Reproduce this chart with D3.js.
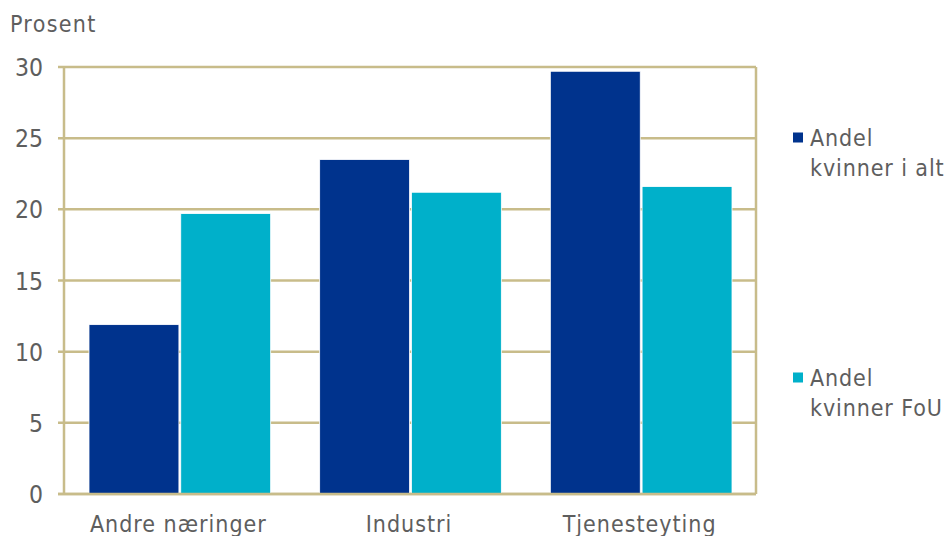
<!DOCTYPE html>
<html><head><meta charset="utf-8">
<script src="https://cdn.jsdelivr.net/npm/d3@7"></script>
<style>
body{margin:0;background:#fff;}
text{font-family:"DejaVu Sans Condensed","DejaVu Sans",Verdana,sans-serif;font-stretch:condensed;fill:#5E5E5E;}
</style></head><body>
<svg id="c" width="949" height="536"></svg>
<script>
const categories = ["Andre næringer", "Industri", "Tjenesteyting"];
const seriesNames = ["Andel kvinner i alt", "Andel kvinner FoU"];
const legendLines = [["Andel", "kvinner i alt"], ["Andel", "kvinner FoU"]];
const totalShare = [11.9, 23.5, 29.7];
const rndShare = [19.7, 21.2, 21.6];
const yTicks = [0, 5, 10, 15, 20, 25, 30];
const colors = ["#00338D", "#00B0CA"];

const svg = d3.select("#c");
const L = 64, R = 756, T = 67, B = 494;
const grid = "#C8BC8A";
const x = d3.scaleBand().domain(categories).range([L, R]).paddingInner(0).paddingOuter(0);
const x1 = d3.scaleBand().domain(seriesNames).range([25, x.bandwidth() - 24]).paddingInner(0.02).paddingOuter(0);
const y = d3.scaleLinear().domain([0, 30]).range([B, T]);

// gridlines
svg.append("g").selectAll("line").data(yTicks).join("line")
  .attr("x1", L - 6).attr("x2", R).attr("y1", d => y(d)).attr("y2", d => y(d))
  .attr("stroke", grid).attr("stroke-width", 2.5);
// right border
svg.append("line").attr("x1", R).attr("x2", R).attr("y1", T).attr("y2", B)
  .attr("stroke", grid).attr("stroke-width", 2.5);

const data = categories.map((c, i) => ({c, vals: [totalShare[i], rndShare[i]]}));
svg.append("g").selectAll("g").data(data).join("g")
  .attr("transform", d => `translate(${x(d.c)},0)`)
  .selectAll("rect").data(d => d.vals.map((v, j) => ({v, j})))
  .join("rect")
  .attr("x", d => x1(seriesNames[d.j]))
  .attr("width", x1.bandwidth())
  .attr("y", d => y(d.v))
  .attr("height", d => y(0) - y(d.v))
  .attr("fill", d => colors[d.j])
  .attr("stroke", "#ffffff").attr("stroke-width", 0.8);

// left axis line
svg.append("line").attr("x1", L).attr("x2", L).attr("y1", T).attr("y2", B)
  .attr("stroke", grid).attr("stroke-width", 2.5);
// bottom axis line
svg.append("line").attr("x1", L - 6).attr("x2", R).attr("y1", B).attr("y2", B)
  .attr("stroke", grid).attr("stroke-width", 2.5);

// y labels
svg.append("g").selectAll("text").data(yTicks).join("text")
  .attr("x", 43).attr("y", d => y(d) + 9)
  .attr("text-anchor", "end").attr("font-size", 24.5).text(d => d);
svg.append("text").attr("x", 10).attr("y", 32).attr("font-size", 23).style("letter-spacing", "1.3px").text("Prosent");

// x labels
svg.append("g").selectAll("text").data(categories).join("text")
  .attr("x", d => x(d) + x.bandwidth() / 2 - 1).attr("y", 532)
  .attr("text-anchor", "middle").attr("font-size", 23).style("letter-spacing", "1px").text(d => d);

// legend
const legY = [137, 377];
const lg = svg.append("g").selectAll("g").data(seriesNames).join("g")
  .attr("transform", (d, i) => `translate(793,${legY[i]})`);
lg.append("rect").attr("x", 0).attr("y", -4.5).attr("width", 10).attr("height", 10)
  .attr("fill", (d, i) => colors[i]);
lg.append("text").attr("x", 17).attr("y", 8.5).attr("font-size", 23).style("letter-spacing", "0.9px")
  .selectAll("tspan").data((d, i) => legendLines[i]).join("tspan")
  .attr("x", 17).attr("dy", (d, k) => k === 0 ? 0 : 30).text(d => d);
</script></body></html>
